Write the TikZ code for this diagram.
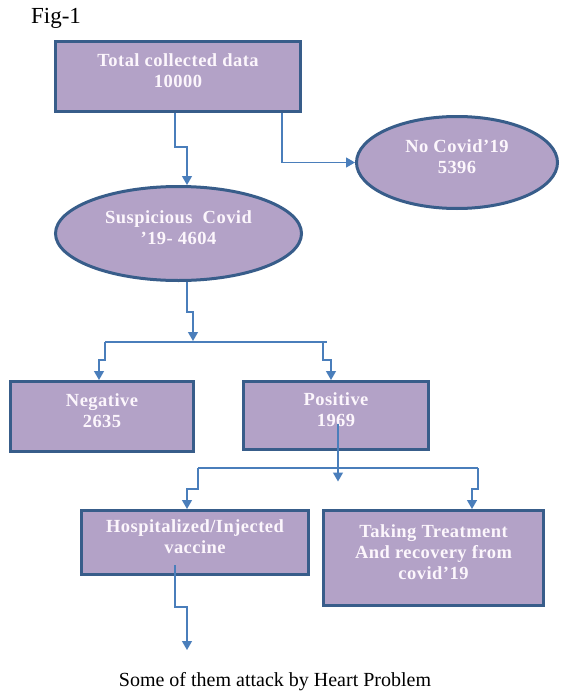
\documentclass[tikz,border=0pt]{standalone}
\usepackage{fontspec}
\setmainfont{Liberation Serif}
\newfontfamily\boxfont[LetterSpace=2.5]{Liberation Serif}
\usepackage{tikz}
\usetikzlibrary{positioning,arrows.meta,shapes.geometric}
\definecolor{cvFill}{RGB}{179,162,199}
\definecolor{cvBorder}{RGB}{56,93,138}
\definecolor{cvLink}{RGB}{74,126,187}
\definecolor{cvText}{RGB}{252,246,252}
\tikzset{
  box/.style={draw=cvBorder, line width=3pt, fill=cvFill, text=cvText, align=center,
    inner sep=0pt, text depth=12pt, font=\boxfont\bfseries\fontsize{18.5}{21}\selectfont},
  oval/.style={box, ellipse},
  bus/.style={cvLink, line width=1.3pt},
  link/.style={bus, -{Triangle[width=10pt,length=9pt]}}
}

\begin{document}
\begin{tikzpicture}[x=1pt, y=-1pt]
  \useasboundingbox (0,0) rectangle (560,693);
  \node[font=\fontsize{23}{26}\selectfont] (fig) at (56,18) {Fig-1};

  % Boxes and ovals
  \node[box, minimum width=245pt, minimum height=70pt] (total) at (178,76.5) {Total collected data\\10000};
  \node[oval, minimum width=201pt, minimum height=92pt] (nocovid) at (457,162.5) {No Covid’19\\5396};
  \node[oval, minimum width=246pt, minimum height=94pt] (suspicious) at (178.5,233.5) {Suspicious\ \ Covid\\’19- 4604};
  \node[box, minimum width=183pt, minimum height=70pt] (negative) at (102,416.5) {Negative\\2635};
  \node[box, minimum width=185pt, minimum height=68pt] (positive) at (336,415.5) {Positive\\1969};
  \node[box, minimum width=227pt, minimum height=64pt] (hosp) at (195,542.5) {Hospitalized/Injected\\vaccine};
  \node[box, minimum width=220pt, minimum height=95pt] (treat) at (433.5,558) {Taking Treatment\\And recovery from\\covid’19};
  \node[font=\fontsize{20}{24}\selectfont] (heart) at (275,682) {Some of them attack by Heart Problem};

  % Split points
  \coordinate (bus1) at (193,341);
  \coordinate (bus1L) at (105,342);
  \coordinate (bus1R) at (327,342);
  \coordinate (bus2L) at (198,468);
  \coordinate (bus2R) at (478,468);
  \coordinate (attack) at (187,650);

  % Connectors
  \draw[link] ([xshift=-3pt]total.south) -- ++(0,34) -| ([xshift=8.5pt]suspicious.north);
  \draw[link] ([xshift=104pt]total.south) |- (nocovid.west);
  \draw[link] ([xshift=8.5pt]suspicious.south) -- ++(0,30) -| (bus1);
  \draw[bus] (bus1L) -- (bus1R);
  \draw[link] (bus1L) -- ++(0,18) -| ([xshift=-3pt]negative.north);
  \draw[link] ([xshift=-4pt]bus1R) -- ++(0,18) -| ([xshift=-5pt]positive.north);
  \draw[link] ([shift={(2,8)}]positive.center) -- ++(0,58);
  \draw[bus] (bus2L) -- (bus2R);
  \draw[link] (bus2L) -- ++(0,21) -| ([xshift=-8pt]hosp.north);
  \draw[link] (bus2R) -- ++(0,21) -| ([xshift=38.5pt]treat.north);
  \draw[link] ([shift={(-20,22.5)}]hosp.center) -- ++(0,42) -| (attack);
\end{tikzpicture}
\end{document}
